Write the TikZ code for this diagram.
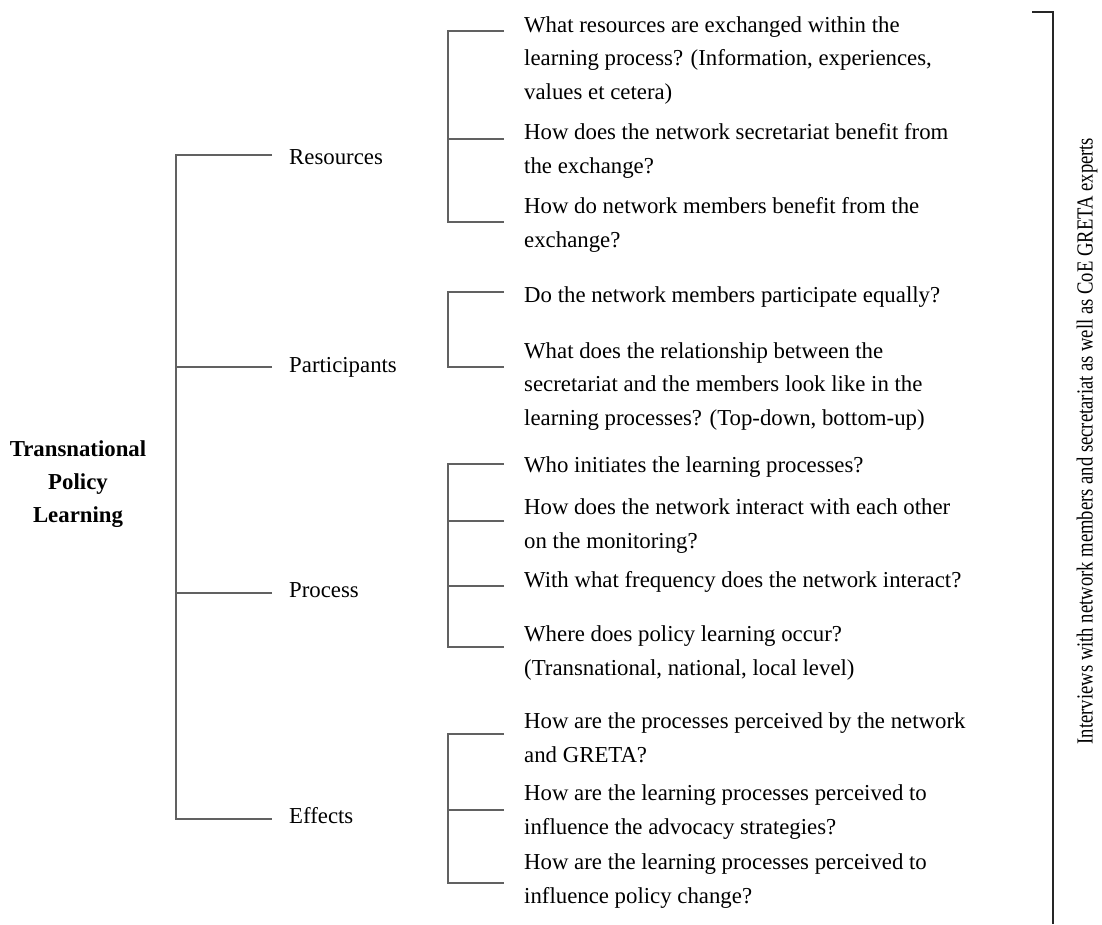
\documentclass[tikz,border=0pt]{standalone}
\usepackage{fontspec}
\usepackage{graphicx}
\setmainfont{Liberation Serif}

\begin{document}
\begin{tikzpicture}[x=1pt,y=-1pt,
    every node/.style={inner sep=0pt,font=\fontsize{22.8}{33.5}\selectfont},
    topic/.style={anchor=base west},
    question/.style={anchor=base west,align=left},
    branch/.style={draw=black!62,line width=1.1pt}]
  \useasboundingbox (0,0) rectangle (1102,924);

  % root (placed by the baseline of its last line)
  \node[align=center,anchor=base,font=\fontsize{22.8}{33}\selectfont\bfseries] (tpl) at (78,522) {Transnational\\Policy\\Learning};

  % topics
  \node[topic] (res) at (289,164) {Resources};
  \node[topic] (par) at (289,372) {Participants};
  \node[topic] (pro) at (289,597) {Process};
  \node[topic] (eff) at (289,823) {Effects};
  \coordinate (res-in) at (272,155);
  \coordinate (par-in) at (272,367);
  \coordinate (pro-in) at (272,593);
  \coordinate (eff-in) at (272,819);

  \draw[branch] (res-in) -- ++(-96,0) |- (eff-in);
  \draw[branch] (par-in) -- ++(-96,0);
  \draw[branch] (pro-in) -- ++(-96,0);

  % questions (placed by the baseline of their last line)
  \node[question] (q1)  at (524,99)  {What resources are exchanged within the\\learning process? (Information, experiences,\\values et cetera)};
  \node[question] (q2)  at (524,173) {How does the network secretariat benefit from\\the exchange?};
  \node[question] (q3)  at (524,247) {How do network members benefit from the\\exchange?};
  \node[question] (q4)  at (524,302) {Do the network members participate equally?};
  \node[question] (q5)  at (524,425) {What does the relationship between the\\secretariat and the members look like in the\\learning processes? (Top-down, bottom-up)};
  \node[question] (q6)  at (524,472) {Who initiates the learning processes?};
  \node[question] (q7)  at (524,548) {How does the network interact with each other\\on the monitoring?};
  \node[question] (q8)  at (524,587) {With what frequency does the network interact?};
  \node[question] (q9)  at (524,675) {Where does policy learning occur?\\(Transnational, national, local level)};
  \node[question] (q10) at (524,762) {How are the processes perceived by the network\\and GRETA?};
  \node[question] (q11) at (524,834) {How are the learning processes perceived to\\influence the advocacy strategies?};
  \node[question] (q12) at (524,903) {How are the learning processes perceived to\\influence policy change?};

  \coordinate (c1)  at (504,31);
  \coordinate (c2)  at (504,139);
  \coordinate (c3)  at (504,222);
  \coordinate (c4)  at (504,292);
  \coordinate (c5)  at (504,367);
  \coordinate (c6)  at (504,464);
  \coordinate (c7)  at (504,521);
  \coordinate (c8)  at (504,586);
  \coordinate (c9)  at (504,647);
  \coordinate (c10) at (504,734);
  \coordinate (c11) at (504,810);
  \coordinate (c12) at (504,883);

  \draw[branch] (c1) -- ++(-56,0) |- (c3);
  \draw[branch] (c2) -- ++(-56,0);
  \draw[branch] (c4) -- ++(-56,0) |- (c5);
  \draw[branch] (c6) -- ++(-56,0) |- (c9);
  \draw[branch] (c7) -- ++(-56,0);
  \draw[branch] (c8) -- ++(-56,0);
  \draw[branch] (c10) -- ++(-56,0) |- (c12);
  \draw[branch] (c11) -- ++(-56,0);

  % sources
  \coordinate (brk-top) at (1032,12);
  \coordinate (brk-end) at (1053,924);
  \draw[branch,draw=black!85] (brk-top) -| (brk-end);
  \node[rotate=90] (src) at (1087,441) {\fontsize{23}{23}\selectfont\scalebox{0.81}[1]{Interviews with network members and secretariat as well as CoE GRETA experts}};
\end{tikzpicture}
\end{document}
